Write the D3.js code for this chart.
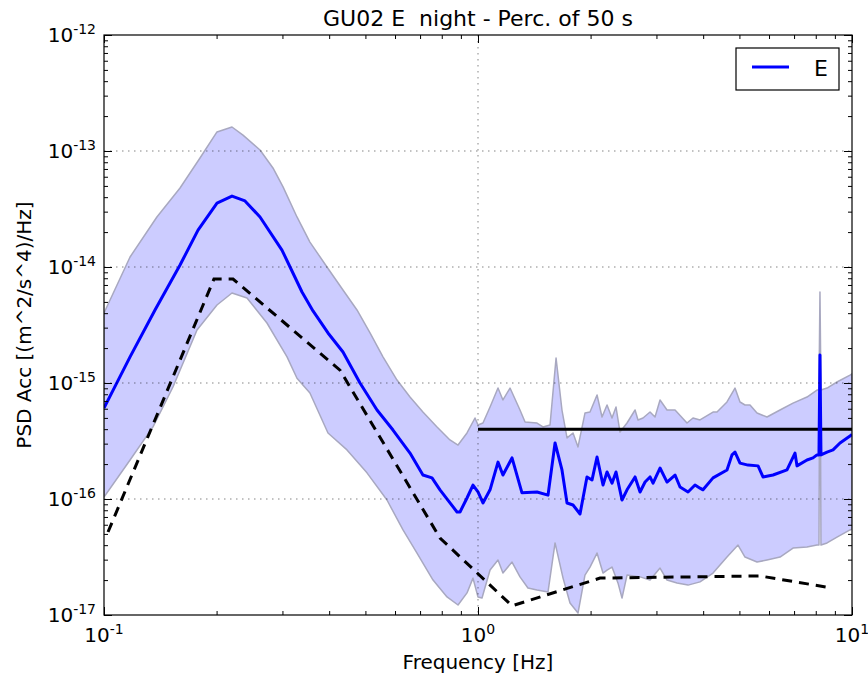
<!DOCTYPE html>
<html>
<head>
<meta charset="utf-8">
<script src="https://cdn.jsdelivr.net/npm/d3@7"></script>
<style>
  body { margin: 0; background: #fff; }
  svg { font-family: 'DejaVu Sans', sans-serif; }
</style>
</head>
<body>
<svg id="chart" width="868" height="677"></svg>
<script>
const TITLE = 'GU02 E  night - Perc. of 50 s';
const X_LABEL = 'Frequency [Hz]';
const Y_LABEL = 'PSD Acc [(m^2/s^4)/Hz]';
const LEGEND = ['E'];

const X_DECADES = [-1, 0, 1];
const Y_DECADES = [-17, -16, -15, -14, -13, -12];

// [frequency Hz, PSD] pairs
const MEDIAN = [
  [0.1, 6.09e-16], [0.1174, 1.68e-15], [0.1369, 4.26e-15], [0.1597, 1.04e-14],
  [0.1784, 2.08e-14], [0.2005, 3.56e-14], [0.2199, 4.09e-14], [0.2382, 3.71e-14],
  [0.2613, 2.70e-14], [0.2991, 1.40e-14], [0.3144, 1.00e-14], [0.3384, 6.09e-15],
  [0.3621, 4.18e-15], [0.3971, 2.70e-15], [0.4355, 1.85e-15], [0.4836, 1.00e-15],
  [0.5370, 5.85e-16], [0.5925, 3.93e-16], [0.6579, 2.49e-16], [0.7124, 1.61e-16],
  [0.7534, 1.52e-16], [0.7914, 1.20e-16], [0.8788, 7.73e-17], [0.8951, 7.73e-17],
  [0.9345, 1.02e-16], [0.9696, 1.32e-16], [1.0, 1.15e-16], [1.031, 9.24e-17],
  [1.077, 1.20e-16], [1.131, 2.08e-16], [1.166, 1.61e-16], [1.233, 2.26e-16],
  [1.311, 1.13e-16], [1.438, 1.15e-16], [1.539, 1.08e-16], [1.607, 3.04e-16],
  [1.677, 1.78e-16], [1.730, 9.24e-17], [1.795, 8.88e-17], [1.874, 7.43e-17],
  [1.956, 1.55e-16], [2.018, 1.46e-16], [2.081, 2.30e-16], [2.159, 1.32e-16],
  [2.213, 1.71e-16], [2.282, 1.37e-16], [2.339, 1.71e-16], [2.427, 9.8e-17],
  [2.503, 1.20e-16], [2.630, 1.55e-16], [2.712, 1.15e-16], [2.797, 1.40e-16],
  [2.884, 1.55e-16], [2.938, 1.37e-16], [3.067, 1.85e-16], [3.202, 1.40e-16],
  [3.364, 1.61e-16], [3.469, 1.27e-16], [3.644, 1.15e-16], [3.804, 1.32e-16],
  [3.923, 1.24e-16], [3.996, 1.20e-16], [4.250, 1.52e-16], [4.632, 1.78e-16],
  [4.777, 2.40e-16], [4.866, 2.54e-16], [5.018, 2.04e-16], [5.272, 1.96e-16],
  [5.608, 1.93e-16], [5.781, 1.55e-16], [6.150, 1.61e-16], [6.702, 1.78e-16],
  [7.040, 2.49e-16], [7.127, 1.93e-16], [7.580, 2.17e-16], [7.865, 2.26e-16],
  [8.060, 2.40e-16], [8.160, 2.40e-16], [8.210, 1.74e-15], [8.261, 2.40e-16],
  [8.576, 2.54e-16], [8.898, 2.65e-16], [9.289, 3.04e-16], [9.878, 3.49e-16],
  [10, 3.6e-16]
];

const UPPER = [
  [0.1, 4.01e-15], [0.1174, 1.22e-14], [0.1385, 2.70e-14], [0.1597, 4.80e-14],
  [0.1806, 8.70e-14], [0.2005, 1.46e-13], [0.2199, 1.61e-13], [0.2353, 1.37e-13],
  [0.2613, 1.02e-13], [0.2830, 7.14e-14], [0.3011, 4.90e-14], [0.3281, 2.70e-14],
  [0.3553, 1.64e-14], [0.3946, 1.00e-14], [0.4355, 6.34e-15], [0.4747, 4.26e-15],
  [0.5144, 2.70e-15], [0.5571, 1.68e-15], [0.6074, 1.06e-15], [0.6579, 7.57e-16],
  [0.7124, 5.62e-16], [0.7771, 4.18e-16], [0.8415, 3.23e-16], [0.8843, 2.92e-16],
  [0.9345, 3.71e-16], [0.9817, 4.99e-16], [1.0, 4.34e-16], [1.031, 4.52e-16],
  [1.077, 6.21e-16], [1.131, 9.05e-16], [1.166, 7.14e-16], [1.218, 9.05e-16],
  [1.295, 5.85e-16], [1.336, 4.61e-16], [1.438, 4.52e-16], [1.492, 4.18e-16],
  [1.558, 4.34e-16], [1.617, 1.64e-15], [1.677, 5.85e-16], [1.730, 3.36e-16],
  [1.795, 3.71e-16], [1.851, 2.81e-16], [1.932, 5.51e-16], [1.993, 5.62e-16],
  [2.081, 7.88e-16], [2.146, 5.09e-16], [2.213, 6.46e-16], [2.282, 4.99e-16],
  [2.339, 6.21e-16], [2.397, 3.78e-16], [2.503, 4.52e-16], [2.630, 5.85e-16],
  [2.678, 4.80e-16], [2.762, 4.99e-16], [2.884, 5.62e-16], [2.974, 5.09e-16],
  [3.067, 7.14e-16], [3.202, 5.85e-16], [3.364, 5.85e-16], [3.621, 4.52e-16],
  [3.757, 4.99e-16], [3.923, 4.80e-16], [4.250, 5.62e-16], [4.355, 5.62e-16],
  [4.632, 6.86e-16], [4.866, 9.05e-16], [5.018, 6.86e-16], [5.175, 6.46e-16],
  [5.337, 6.46e-16], [5.572, 5.51e-16], [5.925, 5.09e-16], [6.420, 5.85e-16],
  [6.955, 6.71e-16], [7.580, 7.57e-16], [8.060, 8.70e-16], [8.160, 8.70e-16],
  [8.210, 6.09e-15], [8.261, 8.70e-16], [8.576, 9.05e-16], [9.117, 1.02e-15],
  [9.878, 1.17e-15], [10, 1.20e-15]
];

const LOWER = [
  [0.1, 1.04e-16], [0.1174, 2.17e-16], [0.1352, 4.18e-16], [0.1529, 9.24e-16],
  [0.1773, 2.86e-15], [0.2005, 4.70e-15], [0.2199, 5.97e-15], [0.2412, 5.41e-15],
  [0.2727, 3.29e-15], [0.3086, 1.68e-15], [0.3281, 1.10e-15], [0.3553, 8.20e-16],
  [0.3971, 3.71e-16], [0.4464, 2.65e-16], [0.5048, 1.68e-16], [0.5710, 9.8e-17],
  [0.6302, 5.41e-17], [0.6869, 3.42e-17], [0.7582, 2.00e-17], [0.8263, 1.43e-17],
  [0.8843, 1.22e-17], [0.9345, 1.55e-17], [0.9696, 2.08e-17], [1.0, 1.43e-17],
  [1.025, 1.40e-17], [1.077, 2.44e-17], [1.131, 2.98e-17], [1.166, 2.30e-17],
  [1.233, 2.86e-17], [1.295, 2.13e-17], [1.360, 1.71e-17], [1.438, 1.64e-17],
  [1.539, 1.58e-17], [1.607, 4.18e-17], [1.688, 2.08e-17], [1.762, 1.27e-17],
  [1.851, 1.04e-17], [1.932, 2.21e-17], [1.993, 2.59e-17], [2.081, 3.42e-17],
  [2.159, 2.30e-17], [2.213, 2.44e-17], [2.282, 2.59e-17], [2.367, 1.89e-17],
  [2.427, 1.40e-17], [2.503, 2.21e-17], [2.712, 2.13e-17], [2.884, 2.00e-17],
  [3.067, 2.54e-17], [3.202, 2.00e-17], [3.405, 1.89e-17], [3.644, 1.81e-17],
  [3.923, 1.93e-17], [4.250, 2.30e-17], [4.632, 3.16e-17], [4.957, 4.01e-17],
  [5.175, 3.16e-17], [5.572, 2.86e-17], [5.925, 2.98e-17], [6.420, 3.16e-17],
  [6.955, 3.78e-17], [7.580, 3.86e-17], [8.060, 4.01e-17], [8.160, 4.01e-17],
  [8.210, 5.8e-15], [8.261, 4.01e-17], [8.576, 4.18e-17], [9.117, 4.70e-17],
  [9.878, 5.41e-17], [10, 5.5e-17]
];

// dashed reference model
const MODEL = [
  [0.1025, 5.19e-17], [0.1968, 7.88e-15], [0.2213, 7.88e-15], [0.4276, 1.29e-15],
  [0.7914, 4.61e-17], [1.233, 1.20e-17], [2.120, 2.08e-17], [5.675, 2.17e-17],
  [8.843, 1.71e-17]
];

// solid threshold line
const THRESHOLD = [[1, 4.0e-16], [10, 4.0e-16]];

const W = 868, H = 677;
const M = { top: 35, right: 16, bottom: 62, left: 104 };

const svg = d3.select('#chart');

const x = d3.scaleLog().domain([0.1, 10]).range([M.left, W - M.right]);
const y = d3.scaleLog().domain([1e-17, 1e-12]).range([H - M.bottom, M.top]);

const xMajor = X_DECADES.map(e => Math.pow(10, e));
const yMajor = Y_DECADES.map(e => Math.pow(10, e));
const minorOf = decs => decs.slice(0, -1).flatMap(e => d3.range(2, 10).map(k => k * Math.pow(10, e)));
const xMinor = minorOf(X_DECADES);
const yMinor = minorOf(Y_DECADES);

svg.append('defs').append('clipPath').attr('id', 'clip')
  .append('rect')
  .attr('x', M.left).attr('y', M.top)
  .attr('width', W - M.left - M.right).attr('height', H - M.top - M.bottom);

const line = d3.line().x(d => x(d[0])).y(d => y(d[1]));

const plot = svg.append('g').attr('clip-path', 'url(#clip)');

// percentile band
const band = UPPER.concat(LOWER.slice().reverse());
plot.append('path')
  .attr('d', line(band) + 'Z')
  .attr('fill', '#ccccff')
  .attr('stroke', '#a8a8c0')
  .attr('stroke-width', 1.5)
  .attr('stroke-linejoin', 'round');

// grid
const grid = svg.append('g').attr('stroke', '#000').attr('stroke-width', 0.6)
  .attr('stroke-dasharray', '1.5,4.5').attr('opacity', 0.8);
grid.selectAll('.gx').data(xMajor.slice(1, -1)).join('line')
  .attr('x1', d => x(d)).attr('x2', d => x(d))
  .attr('y1', M.top).attr('y2', H - M.bottom);
grid.selectAll('.gy').data(yMajor.slice(1, -1)).join('line')
  .attr('x1', M.left).attr('x2', W - M.right)
  .attr('y1', d => y(d)).attr('y2', d => y(d));

plot.append('path')
  .attr('d', line(THRESHOLD))
  .attr('fill', 'none').attr('stroke', '#000').attr('stroke-width', 3);

plot.append('path')
  .attr('d', line(MODEL))
  .attr('fill', 'none').attr('stroke', '#000').attr('stroke-width', 3)
  .attr('stroke-dasharray', '10,7');

plot.append('path')
  .attr('d', line(MEDIAN))
  .attr('fill', 'none').attr('stroke', '#0000ff').attr('stroke-width', 3)
  .attr('stroke-linejoin', 'round');

// axes, ticks pointing inward on all four sides
function addAxis(axisFn, scale, tx, ty) {
  [[xMajor, yMajor, 8], [xMinor, yMinor, 4]].forEach(([xv, yv, len]) => {
    const vals = (scale === x) ? xv : yv;
    const g = svg.append('g').attr('transform', `translate(${tx},${ty})`)
      .call(axisFn(scale).tickValues(vals).tickSize(-len).tickFormat(''));
    g.select('.domain').remove();
    g.selectAll('line').attr('stroke', '#000').attr('stroke-width', 1);
  });
}
addAxis(d3.axisBottom, x, 0, H - M.bottom);
addAxis(d3.axisTop, x, 0, M.top);
addAxis(d3.axisLeft, y, M.left, 0);
addAxis(d3.axisRight, y, W - M.right, 0);

svg.append('rect')
  .attr('x', M.left).attr('y', M.top)
  .attr('width', W - M.left - M.right).attr('height', H - M.top - M.bottom)
  .attr('fill', 'none').attr('stroke', '#000').attr('stroke-width', 1.2);

// tick labels as 10^n
function powLabel(sel, exp) {
  sel.append('tspan').text('10');
  sel.append('tspan').attr('font-size', 14).attr('dy', -8).text(exp);
}
X_DECADES.forEach(e => {
  svg.append('text')
    .attr('x', x(Math.pow(10, e))).attr('y', 642)
    .attr('text-anchor', 'middle').attr('font-size', 20).attr('fill', '#000')
    .call(powLabel, e);
});
Y_DECADES.forEach(e => {
  svg.append('text')
    .attr('x', M.left - 8).attr('y', y(Math.pow(10, e)) + 7)
    .attr('text-anchor', 'end').attr('font-size', 20).attr('fill', '#000')
    .call(powLabel, e);
});

svg.append('text')
  .attr('x', x(1)).attr('y', 26)
  .attr('text-anchor', 'middle').attr('font-size', 22)
  .style('white-space', 'pre')
  .text(TITLE);

svg.append('text')
  .attr('x', x(1)).attr('y', 669)
  .attr('text-anchor', 'middle').attr('font-size', 20)
  .text(X_LABEL);

svg.append('text')
  .attr('transform', `translate(31,${(M.top + H - M.bottom) / 2}) rotate(-90)`)
  .attr('text-anchor', 'middle').attr('font-size', 20)
  .text(Y_LABEL);

// legend
const lg = svg.append('g').attr('transform', 'translate(736,48)');
lg.append('rect').attr('width', 103).attr('height', 42)
  .attr('fill', '#fff').attr('stroke', '#000').attr('stroke-width', 1.2);
lg.append('line').attr('x1', 16).attr('x2', 53).attr('y1', 19).attr('y2', 19)
  .attr('stroke', '#0000ff').attr('stroke-width', 3);
lg.append('text').attr('x', 78).attr('y', 28).attr('font-size', 22).text(LEGEND[0]);
</script>
</body>
</html>
